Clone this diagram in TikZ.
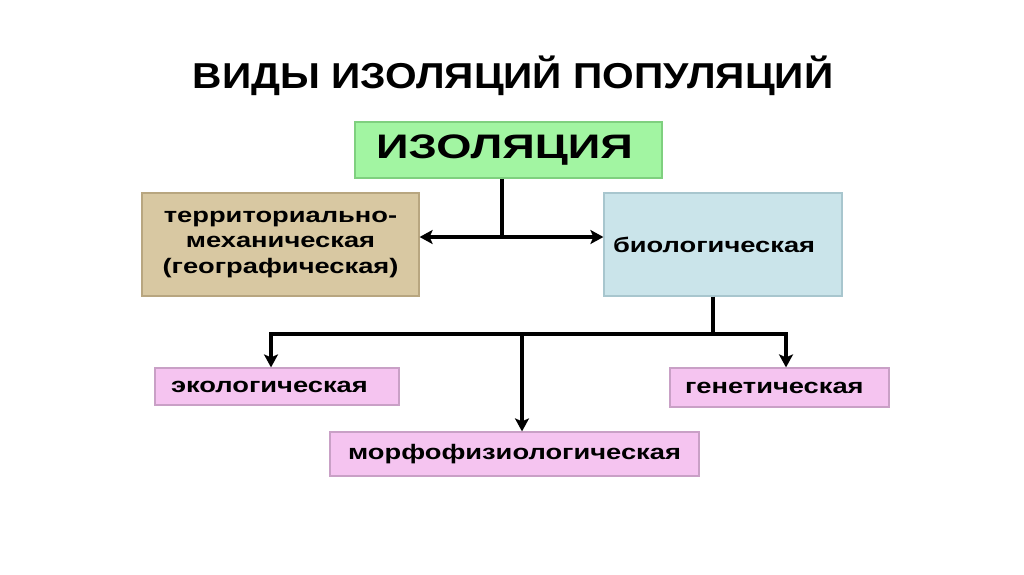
\documentclass[tikz,border=0pt]{standalone}
\usepackage{graphicx}
\usepackage{fontspec}
\setmainfont{Liberation Sans}
\usetikzlibrary{arrows.meta}
\definecolor{isogreen}{HTML}{A2F5A2}
\definecolor{isoborder}{HTML}{7FD07F}
\definecolor{tan}{HTML}{D8C8A2}
\definecolor{tanborder}{HTML}{B8A680}
\definecolor{lblue}{HTML}{CAE4EA}
\definecolor{lblueborder}{HTML}{A8C6CE}
\definecolor{lpink}{HTML}{F5C4F0}
\definecolor{lpinkborder}{HTML}{C9A0C6}
\newcommand\stretchtxt[1]{\scalebox{1.3}[1]{#1}}
\tikzset{
  box/.style={draw, line width=1.2pt, inner sep=0pt, font=\bfseries\fontsize{21}{25.5}\selectfont},
  arr/.style={line width=3.8pt, -{Stealth[length=13pt,width=14pt,inset=3pt]}},
  ln/.style={line width=3.8pt},
}
\begin{document}
\begin{tikzpicture}[x=1pt,y=-1pt]
\useasboundingbox[fill=white] (0,0) rectangle (1024,574);
\node (title) at (513,76) {\fontsize{36}{40}\selectfont\bfseries\scalebox{1.13}[1]{ВИДЫ ИЗОЛЯЦИЙ ПОПУЛЯЦИЙ}};
\node[box, fill=isogreen, draw=isoborder, minimum width=307pt, minimum height=56pt, font=\bfseries\fontsize{34}{40}\selectfont] (iso) at (508.5,150) {\scalebox{1.33}[1]{ИЗОЛЯЦИЯ}\hspace*{8pt}};
\node[box, fill=tan, draw=tanborder, minimum width=277pt, minimum height=103pt, align=center] (terr) at (280.5,244.5) {\stretchtxt{территориально-}\\\stretchtxt{механическая}\\\stretchtxt{(географическая)}};
\node[box, fill=lblue, draw=lblueborder, minimum width=238pt, minimum height=103pt, text width=220pt, align=left] (bio) at (723,244.5) {\stretchtxt{биологическая}};
\node[box, fill=lpink, draw=lpinkborder, minimum width=244pt, minimum height=37pt, text width=212pt, align=left] (eko) at (277,386.5) {\stretchtxt{экологическая}};
\node[box, fill=lpink, draw=lpinkborder, minimum width=219pt, minimum height=39pt, text width=189pt, align=left] (gen) at (779.5,387.5) {\stretchtxt{генетическая}};
\node[box, fill=lpink, draw=lpinkborder, minimum width=369pt, minimum height=44pt, align=center] (morph) at (514.5,454) {\stretchtxt{морфофизиологическая}};
\coordinate (j1) at (502,237);
\coordinate (j2) at (713,334);
\coordinate (jl) at (271,334);
\coordinate (jm) at (522,334);
\coordinate (jr) at (786,334);
\draw[ln] (j1 |- iso.south) -- (j1);
\draw[arr] (j1) -- (terr.east |- j1);
\draw[arr] (j1) -- (bio.west |- j1);
\draw[ln] (j2 |- bio.south) -- (j2);
\draw[ln, line cap=rect] (jl) -- (jr);
\draw[arr] (jl) -- (jl |- eko.north);
\draw[arr] (jr) -- (jr |- gen.north);
\draw[arr] (jm) -- (jm |- morph.north);
\end{tikzpicture}
\end{document}
